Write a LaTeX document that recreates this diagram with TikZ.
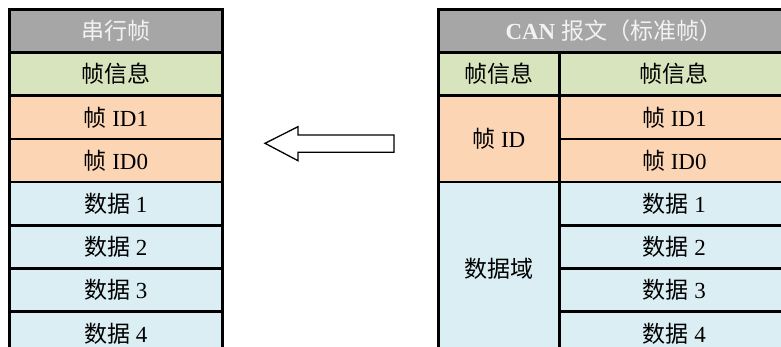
\documentclass[tikz,border=0pt]{standalone}
\usepackage{fontspec}
\setmainfont{Liberation Serif}
\newfontfamily\cjk{Noto Sans CJK SC}
\newcommand{\zh}[1]{{\cjk\mdseries #1}}
\definecolor{hdrgray}{HTML}{A6A6A6}
\definecolor{infogreen}{HTML}{D7E4BD}
\definecolor{idorange}{HTML}{FCD5B5}
\definecolor{datablue}{HTML}{DAEEF3}

\begin{document}
\begin{tikzpicture}[x=1pt, y=-1pt,
    cell/.style = {draw=black, line width=2.6pt, anchor=north west, inner sep=0pt,
                   minimum height=43.2pt, font=\fontsize{23}{26}\selectfont},
    hdr/.style  = {cell, fill=hdrgray, text=white!95!black, font=\fontsize{23}{26}\selectfont\bfseries},
    lcell/.style = {cell, minimum width=213pt},
    acell/.style = {cell, minimum width=121pt},
    bcell/.style = {cell, minimum width=230pt}]
\clip (0,0) rectangle (781,347);
\useasboundingbox (0,0) rectangle (781,347);

% serial frame
\node[hdr, minimum width=213pt] (lHead) at (8,8) {\zh{串行帧}};
\node[lcell, fill=infogreen] (lInfo) at (8,51.2) {\zh{帧信息}};
\node[lcell, fill=idorange] (lIdA) at (8,94.4) {\zh{帧} ID1};
\node[lcell, fill=idorange] (lIdB) at (8,137.6) {\zh{帧} ID0};
\node[lcell, fill=datablue] (lData1) at (8,180.8) {\zh{数据} 1};
\node[lcell, fill=datablue] (lData2) at (8,224) {\zh{数据} 2};
\node[lcell, fill=datablue] (lData3) at (8,267.2) {\zh{数据} 3};
\node[lcell, fill=datablue] (lData4) at (8,310.4) {\zh{数据} 4};

% CAN message
\node[hdr, minimum width=351pt] (rHead) at (437,8) {CAN \zh{报文（标准帧）}};
\node[acell, fill=infogreen] (rInfoA) at (437,51.2) {\zh{帧信息}};
\node[bcell, fill=infogreen] (rInfoB) at (558,51.2) {\zh{帧信息}};
\node[acell, fill=idorange, minimum height=86.4pt] (rId) at (437,94.4) {\zh{帧} ID};
\node[bcell, fill=idorange] (rIdA) at (558,94.4) {\zh{帧} ID1};
\node[bcell, fill=idorange] (rIdB) at (558,137.6) {\zh{帧} ID0};
\node[acell, fill=datablue, minimum height=172.8pt] (rData) at (437,180.8) {\zh{数据域}};
\node[bcell, fill=datablue] (rData1) at (558,180.8) {\zh{数据} 1};
\node[bcell, fill=datablue] (rData2) at (558,224) {\zh{数据} 2};
\node[bcell, fill=datablue] (rData3) at (558,267.2) {\zh{数据} 3};
\node[bcell, fill=datablue] (rData4) at (558,310.4) {\zh{数据} 4};

% hollow arrow
\draw[line width=1.3pt, fill=white] (265,143.3) -- (298,126.7) -- (298,135) -- (394,135)
    -- (394,152.3) -- (298,152.3) -- (298,160.7) -- cycle;
\end{tikzpicture}
\end{document}
